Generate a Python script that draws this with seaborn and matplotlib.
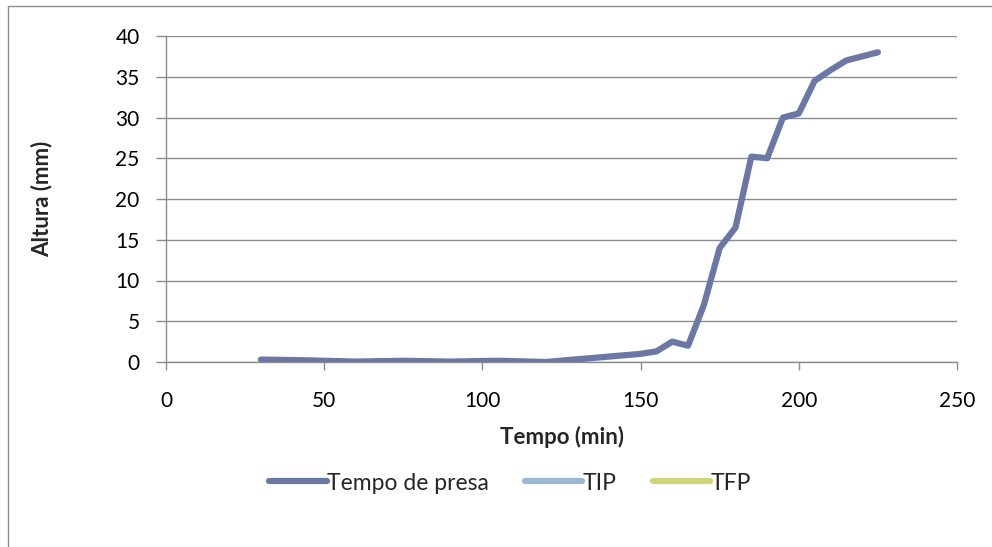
import matplotlib
matplotlib.use("Agg")
import matplotlib.pyplot as plt
import seaborn as sns
import pandas as pd
from matplotlib.lines import Line2D
from matplotlib.patches import Rectangle

# Data
tempo = [30, 45, 60, 75, 90, 105, 120, 135, 150, 155, 160, 165, 170, 175,
         180, 185, 190, 195, 200, 205, 210, 215, 220, 225]
altura = [0.3, 0.2, 0.05, 0.15, 0.05, 0.15, 0.0, 0.5, 1.0, 1.3, 2.5, 2.0, 7.0, 14.0,
          16.5, 25.2, 25.0, 30.0, 30.5, 34.5, 35.8, 37.0, 37.5, 38.0]
series_names = ["Tempo de presa", "TIP", "TFP"]
series_colors = ["#6b78a6", "#9bb7d3", "#cfd67a"]
x_ticks = [0, 50, 100, 150, 200, 250]
y_ticks = [0, 5, 10, 15, 20, 25, 30, 35, 40]

sns.set_theme(style="white")
plt.rcParams["font.family"] = ["Lato", "DejaVu Sans"]

fig = plt.figure(figsize=(9.92, 5.47), dpi=100)
ax = fig.add_axes([166/992, 1-362/547, (957-166)/992, (362-36)/547])

df = pd.DataFrame({"Tempo": tempo, "Altura": altura})
sns.lineplot(data=df, x="Tempo", y="Altura", ax=ax, color=series_colors[0],
             linewidth=4.5, solid_capstyle="round", solid_joinstyle="round",
             legend=False, zorder=3)

ax.set_xlim(0, 250)
ax.set_ylim(0, 40)
ax.set_xticks(x_ticks)
ax.set_yticks(y_ticks)
ax.set_xticklabels([str(v) for v in x_ticks], fontsize=15)
ax.set_yticklabels([str(v) for v in y_ticks], fontsize=15)
ax.yaxis.grid(True, color="#8c8c8c", linewidth=1.0)
ax.xaxis.grid(False)
for s in ["top", "right"]:
    ax.spines[s].set_visible(False)
for s in ["left", "bottom"]:
    ax.spines[s].set_color("#8c8c8c")
    ax.spines[s].set_linewidth(1.0)
ax.tick_params(axis="both", direction="out", width=1.0, color="#8c8c8c",
               labelcolor="black", bottom=True, left=True)
ax.tick_params(axis="x", length=6, pad=15)
ax.tick_params(axis="y", length=7, pad=12)

ax.set_xlabel("Tempo (min)", fontsize=16, fontweight="bold")
ax.set_ylabel("Altura (mm)", fontsize=16, fontweight="bold")
ax.xaxis.set_label_coords(0.5, (362-426)/326)
ax.yaxis.set_label_coords((52-166)/791, 0.5)

handles = [Line2D([], [], color=c, linewidth=4.5, solid_capstyle="round") for c in series_colors]
fig.legend(handles, series_names, loc="center", bbox_to_anchor=(510/992, 1-483/547),
           ncol=3, frameon=False, fontsize=16.5, handlelength=2.5, handletextpad=0.0,
           columnspacing=1.6)

fig.patches.append(Rectangle((8/992, -0.05), 1.1, 1-6/547+0.05, transform=fig.transFigure,
                             fill=False, edgecolor="#8c8c8c", linewidth=1.0))

fig.savefig("out.png", dpi=100)
